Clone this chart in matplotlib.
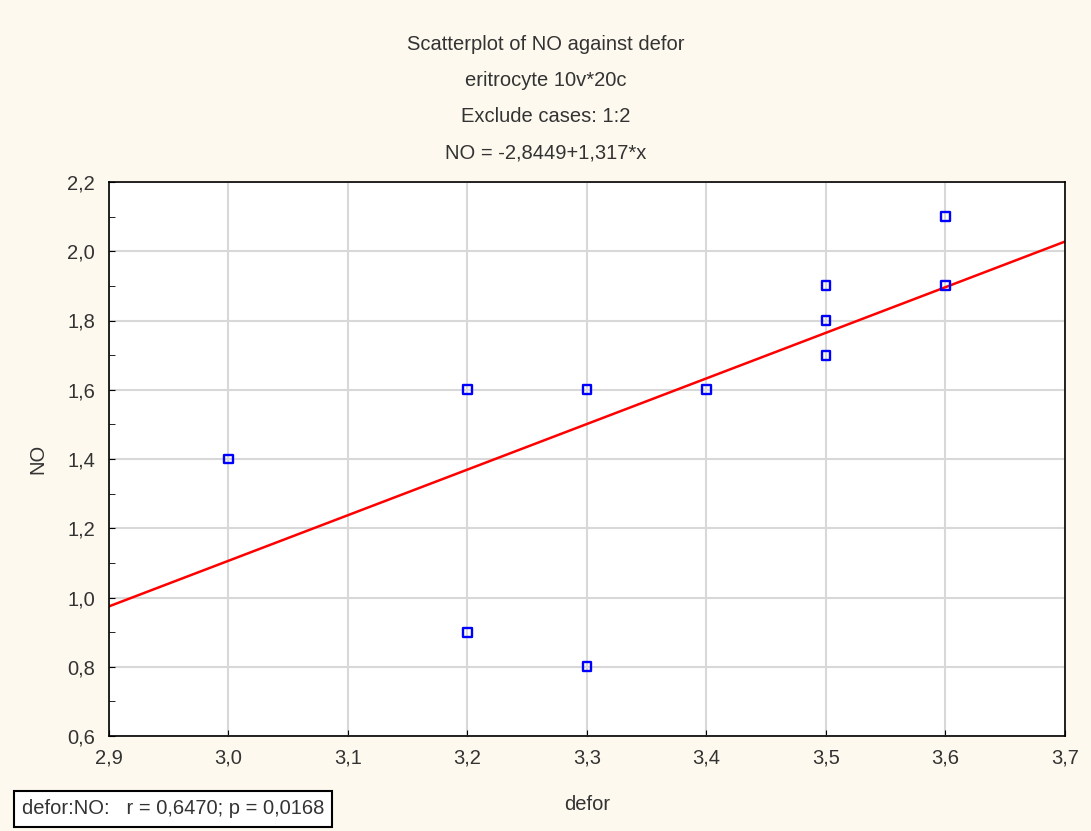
import numpy as np
import matplotlib.pyplot as plt
from matplotlib.ticker import FuncFormatter, AutoMinorLocator

plt.rcParams['font.family'] = ['Liberation Sans', 'DejaVu Sans']

defor = [3.0, 3.2, 3.2, 3.3, 3.3, 3.4, 3.5, 3.5, 3.5, 3.6, 3.6]
no_vals = [1.4, 1.6, 0.9, 1.6, 0.8, 1.6, 1.9, 1.8, 1.7, 2.1, 1.9]
intercept = -2.8449
slope = 1.317

fig = plt.figure(figsize=(10.91, 8.31), dpi=100, facecolor='#fdf9ee')
ax = fig.add_axes([109 / 1091, 1 - 736 / 831, (1065 - 109) / 1091, (736 - 182) / 831])
ax.set_facecolor('white')

xs = np.array([2.9, 3.7])
ax.plot(xs, intercept + slope * xs, color='red', lw=1.8, zorder=2)
ax.scatter(defor, no_vals, marker='s', s=40, facecolors='none', edgecolors='blue',
           linewidths=1.7, zorder=3)

ax.set_xlim(2.9, 3.7)
ax.set_ylim(0.6, 2.2)
ax.set_xticks(np.arange(2.9, 3.71, 0.1))
ax.set_yticks(np.arange(0.6, 2.21, 0.2))
ax.yaxis.set_minor_locator(AutoMinorLocator(2))
comma = FuncFormatter(lambda v, p: f'{v:.1f}'.replace('.', ','))
ax.xaxis.set_major_formatter(comma)
ax.yaxis.set_major_formatter(comma)
ax.grid(True, which='major', color='#d8d8d8', lw=1.5)
ax.set_axisbelow(True)
ax.tick_params(which='both', direction='in', labelsize=14.5, colors='#333333', length=4)
ax.tick_params(which='both', color='black')
ax.tick_params(axis='x', pad=9)
ax.tick_params(axis='y', pad=10)
for s in ax.spines.values():
    s.set_color('black')
    s.set_linewidth(1.2)

ax.set_xlabel('defor', fontsize=14.5, color='#333333', labelpad=20)
ax.set_ylabel('NO', fontsize=14.5, color='#333333', labelpad=14)

titles = ['Scatterplot of NO against defor', 'eritrocyte 10v*20c',
          'Exclude cases: 1:2', 'NO = -2,8449+1,317*x']
for i, t in enumerate(titles):
    fig.text(0.5, 1 - (45 + i * 36) / 831, t, ha='center', va='center',
             fontsize=14.5, color='#333333')

fig.text(22 / 1091, 1 - 809 / 831, 'defor:NO:   r = 0,6470; p = 0,0168', ha='left',
         va='center', fontsize=14.5, color='#333333',
         bbox=dict(boxstyle='square,pad=0.4', facecolor='white', edgecolor='black', lw=1.5))

fig.savefig('out.png', dpi=100, facecolor=fig.get_facecolor())
